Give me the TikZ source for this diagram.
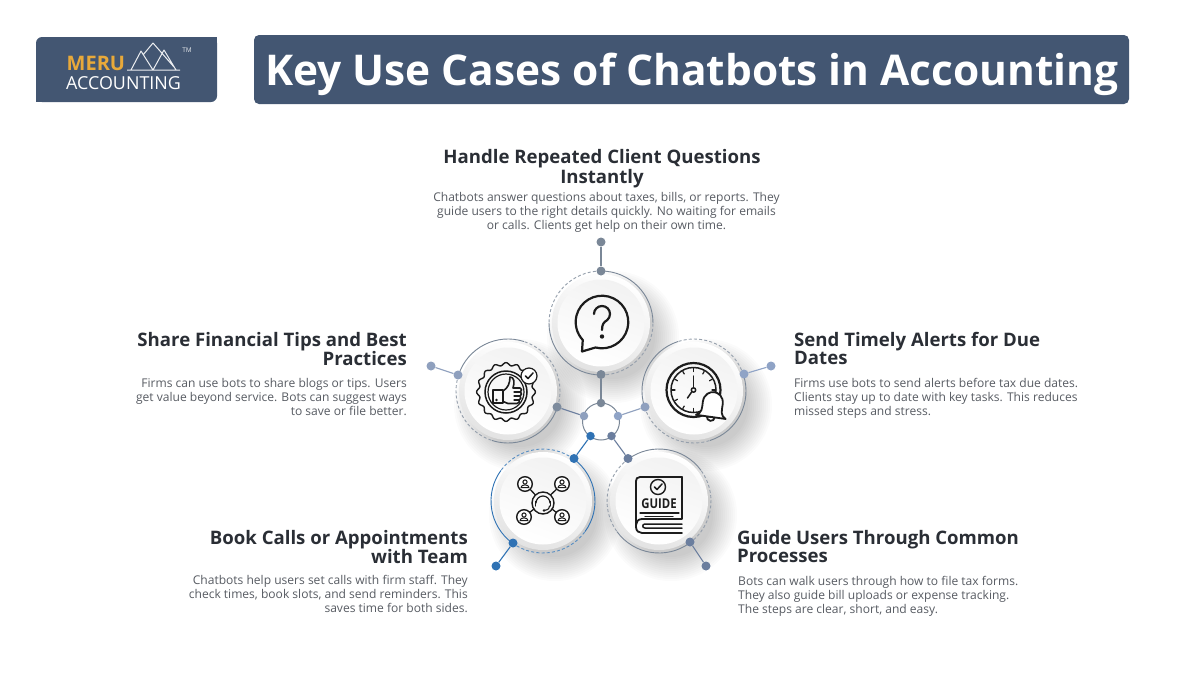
\documentclass[tikz,border=0pt]{standalone}
\usepackage{fontspec}
\setmainfont{Open Sans}
\usetikzlibrary{calc}
\definecolor{navy}{HTML}{435672}
\definecolor{headc}{HTML}{2A2E35}
\definecolor{bodyc}{HTML}{585C63}
\definecolor{gorange}{HTML}{E8A93A}
\definecolor{cgray}{HTML}{7A8797}
\definecolor{cperi}{HTML}{8FA0BE}
\definecolor{cperib}{HTML}{8FA3C6}
\definecolor{cblue}{HTML}{2F72B4}
\definecolor{cslate}{HTML}{6B7E9E}
\definecolor{iconc}{HTML}{1C1C1C}
\tikzset{
 x=1pt,y=-1pt,
 titlebar/.style={fill=navy,draw=none,rounded corners=5pt},
 headl/.style={text=headc,font=\fontsize{18.6}{18.5}\selectfont\bfseries,inner sep=0pt},
 bodyl/.style={text=bodyc,font=\fontsize{12.05}{14}\selectfont,inner sep=0pt},
 dot/.style={circle,fill=#1,draw=none,minimum size=9pt,inner sep=0pt},
 smalld/.style={circle,fill=#1,draw=none,minimum size=8.5pt,inner sep=0pt},
 link/.style={draw=#1,line width=1.1pt},
 icon/.style={draw=iconc,line width=2.2pt,line cap=round,line join=round},
 iconthin/.style={draw=iconc,line width=1.2pt,line cap=round,line join=round},
}
\newcommand{\softshadow}[2]{%
 \foreach \rr in {42,44,...,66}{\fill[black,opacity=.015] (#1+12,#2+14) circle[radius=\rr];}%
}
\newcommand{\diskat}[2]{%
 \shade[shading=axis,top color=white,bottom color=white!89!black,shading angle=-20] (#1,#2) circle[radius=49];
 \shade[shading=axis,top color=white!95!black,bottom color=white,shading angle=-20] (#1,#2) circle[radius=43.5];
}
\newcommand{\ringarcs}[4]{%
 \begin{scope}[shift={(#1,#2)}]
 \draw[#4,line width=.9pt] ({-(#3)}:52) arc[start angle={-(#3)},end angle={-(#3)-90},radius=52];
 \draw[#4,line width=.9pt] ({-(#3)-180}:52) arc[start angle={-(#3)-180},end angle={-(#3)-270},radius=52];
 \draw[#4!80!white,line width=.9pt,dash pattern=on 3pt off 2.2pt] ({-(#3)-90}:52) arc[start angle={-(#3)-90},end angle={-(#3)-180},radius=52];
 \draw[#4!80!white,line width=.9pt,dash pattern=on 3pt off 2.2pt] ({-(#3)-270}:52) arc[start angle={-(#3)-270},end angle={-(#3)-360},radius=52];
 \end{scope}%
}
\begin{document}
\begin{tikzpicture}
\useasboundingbox (0,0) rectangle (1200,675);
\fill[white] (0,0) rectangle (1200,675);

% logo
\path[fill=navy,rounded corners=6pt] (36,102) -- (36,37) -- (217,37) -- (217,102) -- cycle;
\fill[navy] (36,95) rectangle (50,102);
\fill[navy] (205,37) rectangle (217,50);
\node[anchor=base west,inner sep=0pt,text=gorange,font=\fontsize{20}{20}\selectfont\bfseries] (meru) at (66.5,70) {MERU};
\node[anchor=base west,inner sep=0pt,text=white,font=\fontsize{17.9}{18}\selectfont] (acc) at (66,89.5) {ACCOUNTING};
\node[inner sep=0pt,text=white!85!navy,font=\fontsize{6.5}{7}\selectfont] (tm) at (187,50) {TM};
\draw[white!90!navy,line width=1pt,line join=round] (127,70) -- (180,70) (131,70) -- (141,51) -- (153,70) -- (164,50) -- (176,70) (143,55) -- (153,43) -- (174,67);

% title
\node[titlebar,minimum width=875pt,minimum height=69pt,inner sep=0pt] (tbar) at (691.5,69.5) {};
\node[inner sep=0pt,text=white,font=\fontsize{42.4}{46}\selectfont\bfseries] (title) at (692,74) {Key Use Cases of Chatbots in Accounting};

% texts
\node[headl,align=center,anchor=north] (h1) at (602,149.5) {Handle Repeated Client Questions\\Instantly};
\node[bodyl,align=center,anchor=north] (b1) at (606.5,192.5) {Chatbots answer questions about taxes, bills, or reports. They\\guide users to the right details quickly. No waiting for emails\\or calls. Clients get help on their own time.};
\node[headl,align=right,anchor=north east] (h2) at (407,332) {Share Financial Tips and Best\\Practices};
\node[bodyl,align=right,anchor=north east] (b2) at (407,378.5) {Firms can use bots to share blogs or tips. Users\\get value beyond service. Bots can suggest ways\\to save or file better.};
\node[headl,align=left,anchor=north west] (h3) at (794,332) {Send Timely Alerts for Due\\Dates};
\node[bodyl,align=left,anchor=north west] (b3) at (794,378.5) {Firms use bots to send alerts before tax due dates.\\Clients stay up to date with key tasks. This reduces\\missed steps and stress.};
\node[headl,align=right,anchor=north east] (h4) at (468,530) {Book Calls or Appointments\\with Team};
\node[bodyl,align=right,anchor=north east] (b4) at (468,575.5) {Chatbots help users set calls with firm staff. They\\check times, book slots, and send reminders. This\\saves time for both sides.};
\node[headl,align=left,anchor=north west] (h5) at (737,530) {Guide Users Through Common\\Processes};
\node[bodyl,align=left,anchor=north west] (b5) at (738,576) {Bots can walk users through how to file tax forms.\\They also guide bill uploads or expense tracking.\\The steps are clear, short, and easy.};

% shadows, disks
\softshadow{601}{323}\softshadow{508}{391}\softshadow{694}{391}\softshadow{543}{501}\softshadow{659}{501}
\diskat{601}{323}\diskat{508}{391}\diskat{694}{391}\diskat{543}{501}\diskat{659}{501}
\ringarcs{601}{323}{0}{cgray}
\ringarcs{508}{391}{72}{cgray}
\ringarcs{694}{391}{-72}{cgray}
\ringarcs{543}{501}{144}{cblue}
\ringarcs{659}{501}{-144}{cgray}

% hub
\draw[cgray,line width=1pt] (601,421.5) circle[radius=18.5];

% dots
\node[dot=cgray] (t0) at (601,242) {};
\node[dot=cgray] (t1) at (601,271) {};
\node[dot=cgray] (t2) at (601,374.5) {};
\node[dot=cperi] (l0) at (431,366) {};
\node[dot=cperi] (l1) at (458,375) {};
\node[dot=cgray!85!cperi] (l2) at (557,407) {};
\node[dot=cperib] (r0) at (771,366) {};
\node[dot=cperib] (r1) at (744,374) {};
\node[dot=cperi] (r2) at (645,407) {};
\node[dot=cblue] (a0) at (496,566) {};
\node[dot=cblue] (a1) at (513,543) {};
\node[dot=cblue] (a2) at (574,458.5) {};
\node[dot=cslate] (c0) at (706,566) {};
\node[dot=cslate] (c1) at (690,542) {};
\node[dot=cslate] (c2) at (628,458.5) {};
\node[smalld=cgray] (p1) at (601,403) {};
\node[smalld=cperib] (p2) at (618,416) {};
\node[smalld=cperi] (p3) at (584,416) {};
\node[smalld=cblue] (p4) at (590.5,436) {};
\node[smalld=cslate] (p5) at (611.5,436) {};
\draw[link=cgray] (t0) -- (t1);
\draw[link=cgray] (t2) -- (p1);
\draw[link=cperi] (l0) -- (l1);
\draw[link=cslate] (l2) -- (p3);
\draw[link=cperib] (r0) -- (r1);
\draw[link=cperi] (r2) -- (p2);
\draw[link=cblue] (a0) -- (a1);
\draw[link=cblue] (a2) -- (p4);
\draw[link=cslate] (c0) -- (c1);
\draw[link=cslate] (c2) -- (p5);

% icon: question bubble
\begin{scope}[shift={(602,322)}]
\draw[icon] (-6.5,25.5) arc[start angle=104.3,end angle=-223,radius=26.3] -- (-20,29.5) -- (-6.5,25.5);
\draw[icon] (-8,-8) arc[start angle=180,end angle=410,radius=8] .. controls (2,0) and (0,2) .. (0,8);
\fill[iconc] (0,14.5) circle[radius=2.2];
\end{scope}

% icon: badge thumbs up
\begin{scope}[shift={(506,392)}]
\draw[iconthin,line width=1.4pt] plot[smooth,samples=145,domain=0:360] ({(28+1.4*cos(16*\x))*cos(\x)},{(28+1.4*cos(16*\x))*sin(\x)});
\draw[icon,line width=1.5pt] (0,0) circle[radius=21];
\draw[iconthin,line width=1.2pt] (0,0) circle[radius=18];
\draw[icon,line width=1.6pt] (-13,-2) rectangle (-3,11);
\draw[icon,line width=1.6pt] (-3,-1) .. controls (2,-4) and (4,-9) .. (4,-15) .. controls (8,-15) and (9,-10) .. (7,-4) -- (14,-4) .. controls (16,-4) and (16,-1) .. (14.5,0) .. controls (16,1) and (16,3.5) .. (14,4) .. controls (15.5,5) and (15,8) .. (13,8) .. controls (14,9.5) and (13,11.5) .. (11,11.5) -- (2,11.5) -- (-3,9.5);
\draw[iconthin] (8,0) -- (14.5,0) (8,4) -- (14,4) (8,8) -- (13,8);
\fill[iconc] (-9.5,8) circle[radius=1.3];
\filldraw[fill=white,draw=iconc,line width=1.2pt] (23,-16) circle[radius=8];
\draw[iconthin,line width=1.5pt] (19.5,-16) -- (22,-13.5) -- (27,-19);
\end{scope}

% icon: clock and bell
\begin{scope}[shift={(693.5,390)}]
\draw[icon] (0,0) circle[radius=27];
\draw[icon,line width=1.5pt] (0,0) circle[radius=22.5];
\foreach \a in {0,30,...,330}{\draw[iconthin] (\a:18.5) -- (\a:21.5);}
\draw[icon,line width=1.5pt] (0,0) circle[radius=2.2];
\draw[icon,line width=1.5pt] (0,-2.2) -- (0,-14);
\draw[icon,line width=1.5pt] (-1.5,1.5) -- (-6,8);
\begin{scope}[shift={(19,15)},rotate=-8]
\filldraw[fill=white,draw=iconc,line width=1.8pt] (-4,12) arc[start angle=180,end angle=0,radius=4] -- cycle;
\filldraw[fill=white,draw=iconc,line width=1.8pt,line join=round] (-15,12) .. controls (-9,9) and (-10,5) .. (-10,-2) .. controls (-10,-10) and (-4,-13) .. (0,-13) .. controls (4,-13) and (10,-10) .. (10,-2) .. controls (10,5) and (9,9) .. (15,12) -- cycle;
\end{scope}
\end{scope}

% icon: network
\begin{scope}[shift={(543,503)}]
\draw[iconthin,line width=1.3pt] (-18,-19) -- (-7.5,-8) (19,-19) -- (7.5,-8) (-19,14) -- (-9,6) (19,14) -- (9,6);
\draw[icon,line width=1.4pt] (0,0) circle[radius=11];
\draw[iconthin,line width=1.2pt] (-7,0) arc[start angle=180,end angle=360,radius=7];
\draw[iconthin,line width=1.2pt] (-7.5,-1.5) -- (-7.5,3) (7.5,-1.5) -- (7.5,3);
\draw[iconthin,line width=1.1pt] (6.5,3) .. controls (6,6.5) and (4,7.5) .. (1,7.5);
\fill[iconc] (1,7.5) circle[radius=1.4];
\foreach \px/\py in {-18/-19,19/-19,-19/14,19/14}{
 \begin{scope}[shift={(\px,\py)}]
 \filldraw[fill=white,draw=iconc,line width=1.4pt] (0,0) circle[radius=7.3];
 \draw[iconthin,line width=1pt] (0,-2) circle[radius=2.1];
 \draw[iconthin,line width=1pt] (-4,3.5) .. controls (-4,0) and (4,0) .. (4,3.5) -- cycle;
 \end{scope}}
\end{scope}

% icon: book
\begin{scope}[shift={(659,505)}]
\draw[icon,line width=1.8pt] (23,-28) -- (-19,-28) .. controls (-22,-28) and (-23,-26) .. (-23,-24) -- (-23,22) .. controls (-23,26) and (-20,28) .. (-17,28) -- (23,28);
\draw[icon,line width=1.8pt] (23,-28) -- (23,14) -- (-17,14) .. controls (-21,14) and (-23,17) .. (-23,20);
\draw[icon,line width=1.5pt] (23,19) -- (-14,19) .. controls (-17,19) and (-17,23) .. (-14,23) -- (23,23);
\draw[iconthin,line width=1.4pt] (-1,-18) circle[radius=7.5];
\draw[iconthin,line width=1.5pt] (-4.5,-18) -- (-2,-15.5) -- (3,-21);
\node[inner sep=0pt,text=iconc,font=\fontsize{13.5}{14}\selectfont\bfseries,xscale=.84] (guide) at (0,-1.5) {GUIDE};
\draw[iconthin,line width=1.2pt] (-19,8) -- (20,8) (-14,11.5) -- (14,11.5);
\end{scope}
\end{tikzpicture}
\end{document}
